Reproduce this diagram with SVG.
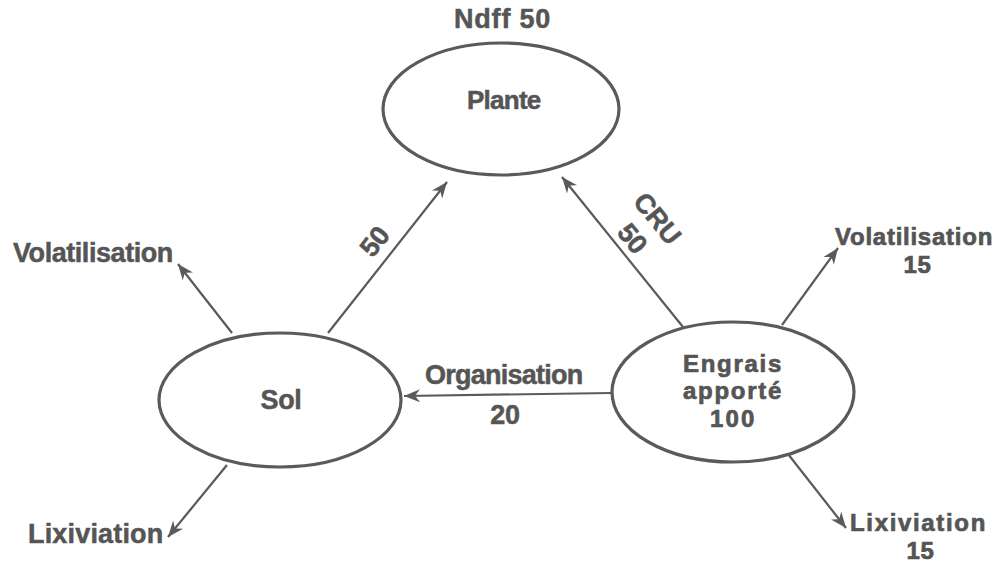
<svg xmlns="http://www.w3.org/2000/svg" width="997" height="564" viewBox="0 0 997 564">
  <style>
    .bg { fill: #ffffff; }
    .node { fill: #ffffff; stroke: #5a5a5a; stroke-width: 3.2; }
    .flow { fill: none; stroke: #5a5a5a; stroke-width: 2.2; marker-end: url(#arr); }
    text { font-family: "Liberation Sans", Arial, Helvetica, sans-serif; font-weight: bold; font-size: 27px; fill: #555555; stroke: #555555; stroke-width: 0.5; letter-spacing: -0.3px; }
    .mid { text-anchor: middle; }
    .inner { font-size: 26px; }
    .stack { font-size: 24px; stroke-width: 0.7; }
  </style>
  <defs>
    <marker id="arr" viewBox="-17 -8 18 16" refX="0" refY="0" markerWidth="18" markerHeight="16" orient="auto" markerUnits="userSpaceOnUse">
      <path d="M0,0 L-16,-6.5 L-11,0 L-16,6.5 Z" fill="#5a5a5a"/>
    </marker>
  </defs>

  <rect class="bg" x="0" y="0" width="997" height="564"/>

  <!-- flows between compartments -->
  <g id="connectors">
    <line class="flow" x1="328" y1="333" x2="447" y2="182"/>
    <line class="flow" x1="683" y1="327" x2="562" y2="177"/>
    <line class="flow" x1="612" y1="393" x2="404" y2="396"/>
    <line class="flow" x1="232" y1="333" x2="178" y2="264"/>
    <line class="flow" x1="227" y1="465" x2="168" y2="537"/>
    <line class="flow" x1="782" y1="325" x2="838" y2="248"/>
    <line class="flow" x1="788" y1="454" x2="846" y2="528"/>

    <!-- flow labels -->
    <g transform="translate(374,241) rotate(-52)">
      <text class="mid" x="0" y="10">50</text>
    </g>
    <g transform="translate(658,218) rotate(51)">
      <text class="mid" x="0" y="10">CRU</text>
    </g>
    <g transform="translate(633,238) rotate(51)">
      <text class="mid" x="0" y="10">50</text>
    </g>
    <text class="mid" x="504" y="384" textLength="158">Organisation</text>
    <text class="mid" x="505" y="424">20</text>
  </g>

  <g id="plante">
    <ellipse class="node" cx="501" cy="109" rx="118" ry="66"/>
    <text class="mid inner" x="504" y="109" textLength="74">Plante</text>
    <text class="mid" x="502" y="28" textLength="96">Ndff 50</text>
  </g>

  <g id="sol">
    <ellipse class="node" cx="280" cy="400" rx="121" ry="67"/>
    <text class="mid" x="281" y="409">Sol</text>
  </g>

  <g id="engrais">
    <ellipse class="node" cx="733" cy="392" rx="121" ry="70"/>
    <text class="mid stack" x="732" y="372" textLength="98">Engrais</text>
    <text class="mid stack" x="732" y="399" textLength="98">apporté</text>
    <text class="mid stack" x="732" y="427" textLength="44">100</text>
  </g>

  <g id="sol-volatilisation">
    <text x="13" y="262" textLength="160">Volatilisation</text>
  </g>
  <g id="sol-lixiviation">
    <text x="28" y="543" textLength="135">Lixiviation</text>
  </g>
  <g id="engrais-volatilisation">
    <text class="stack" x="835" y="245" textLength="157">Volatilisation</text>
    <text class="mid stack" x="917" y="273" textLength="27">15</text>
  </g>
  <g id="engrais-lixiviation">
    <text class="stack" x="850" y="531" textLength="135">Lixiviation</text>
    <text class="mid stack" x="920" y="559" textLength="27">15</text>
  </g>
</svg>
